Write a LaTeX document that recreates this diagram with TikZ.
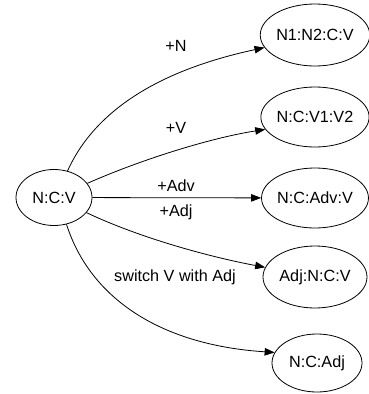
\documentclass[tikz,border=0pt]{standalone}
\usepackage{fontspec}
\setmainfont{Liberation Sans}
\usetikzlibrary{shapes.geometric,arrows.meta}
\begin{document}
\begin{tikzpicture}[x=1pt,y=-1pt,
  st/.style={ellipse,draw,line width=0.8pt,inner sep=0pt,font=\fontsize{16.2}{19}\selectfont},
  lbl/.style={font=\fontsize{16.2}{19}\selectfont,inner sep=0pt},
  edge/.style={draw,line width=0.8pt,-{Triangle[length=10pt,width=7.5pt]}}]
\useasboundingbox (0,0) rectangle (368,394);
\node[st,minimum width=76pt,minimum height=56pt] (ncv) at (54,197.5) {N:C:V};
\node[st,minimum width=104pt,minimum height=62pt] (n1) at (315,35) {N1:N2:C:V};
\node[st,minimum width=104pt,minimum height=60pt] (v12) at (315,117) {N:C:V1:V2};
\node[st,minimum width=104pt,minimum height=60pt] (adv) at (315,198) {N:C:Adv:V};
\node[st,minimum width=104pt,minimum height=62pt] (adjn) at (315,277) {Adj:N:C:V};
\node[st,minimum width=90pt,minimum height=58pt] (ncadj) at (317,363) {N:C:Adj};
\path[edge] (ncv.63) .. controls (95,110) and (160,70) .. (n1.194);
\path[edge] (ncv.23) .. controls (140,160) and (210,138) .. (v12.194);
\path[edge] (ncv) -- (adv);
\path[edge] (ncv.335) .. controls (140,238) and (210,257) .. (adjn.169);
\path[edge] (ncv.295) .. controls (90,298) and (160,345) .. (ncadj.166);
\node[lbl] (lN) at (176,46) {+N};
\node[lbl] (lV) at (176,128) {+V};
\node[lbl] (lAdv) at (176,186) {+Adv};
\node[lbl] (lAdj) at (176,212) {+Adj};
\node[lbl] (lsw) at (175,277) {switch V with Adj};
\end{tikzpicture}
\end{document}
